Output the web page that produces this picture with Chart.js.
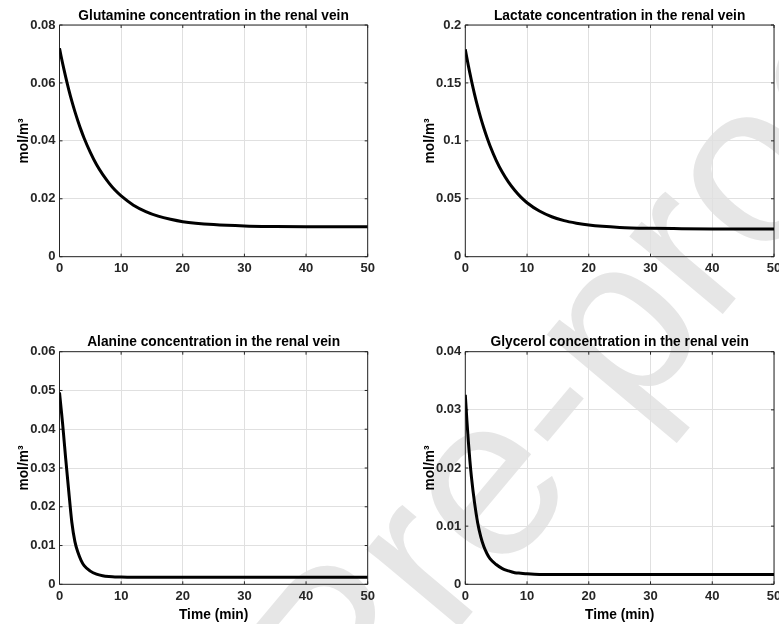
<!DOCTYPE html>
<html>
<head>
<meta charset="utf-8">
<script src="https://cdn.jsdelivr.net/npm/chart.js@4.4.0/dist/chart.umd.min.js"></script>
<style>
  html, body { margin: 0; padding: 0; background: #fff; }
  #page { position: relative; width: 779px; height: 624px; overflow: hidden; }
  #stamp { position: absolute; left: 0; top: 0; }
  .panel { position: absolute; }
</style>
</head>
<body>
<div id="page">
  <canvas id="stamp" width="779" height="624"></canvas>
  <div class="panel" style="left:0;top:0;width:390px;height:300px"><canvas id="glnChart"></canvas></div>
  <div class="panel" style="left:390px;top:0;width:389px;height:300px"><canvas id="lacChart"></canvas></div>
  <div class="panel" style="left:0;top:300px;width:390px;height:324px"><canvas id="alaChart"></canvas></div>
  <div class="panel" style="left:390px;top:300px;width:389px;height:324px"><canvas id="glyChart"></canvas></div>
</div>
<script>
// time axis (min) and renal vein concentrations (mol/m3)
const timeMin = [0, 0.25, 0.5, 0.75, 1, 1.5, 2, 2.5, 3, 3.5, 4, 5, 6, 7, 8, 9, 10, 12, 14, 16, 18, 20, 25, 30, 35, 40, 45, 50];

const glutamine = [0.0720, 0.0693, 0.0668, 0.0644, 0.0621, 0.0577, 0.0537, 0.0501, 0.0468, 0.0437, 0.0409, 0.0360, 0.0318, 0.0284,
  0.0255, 0.0230, 0.0210, 0.0178, 0.0156, 0.0140, 0.0129, 0.0121, 0.0111, 0.0106, 0.0104, 0.0103, 0.0103, 0.0103];
const lactate = [0.1790, 0.1717, 0.1647, 0.1582, 0.1519, 0.1402, 0.1295, 0.1198, 0.1111, 0.1031, 0.0958, 0.0832, 0.0728, 0.0643,
  0.0573, 0.0514, 0.0466, 0.0394, 0.0345, 0.0311, 0.0289, 0.0273, 0.0253, 0.0245, 0.0242, 0.0240, 0.0239, 0.0239];
const alanine = [0.0495, 0.0455, 0.0415, 0.0370, 0.0325, 0.0240, 0.0160, 0.0110, 0.0082, 0.0062, 0.0048, 0.0034, 0.0026, 0.0022,
  0.0020, 0.0019, 0.0019, 0.0018, 0.0018, 0.0018, 0.0018, 0.0018, 0.0018, 0.0018, 0.0018, 0.0018, 0.0018, 0.0018];
const glycerol = [0.0326, 0.0283, 0.0245, 0.0212, 0.0184, 0.0140, 0.0106, 0.0082, 0.0065, 0.0053, 0.0044, 0.0034, 0.0027, 0.0023,
  0.0020, 0.0019, 0.0018, 0.0017, 0.0017, 0.0017, 0.0017, 0.0017, 0.0017, 0.0017, 0.0017, 0.0017, 0.0017, 0.0017];

const timeTicks = [0, 10, 20, 30, 40, 50];
const glnTicks = [0, 0.02, 0.04, 0.06, 0.08];
const lacTicks = [0, 0.05, 0.1, 0.15, 0.2];
const alaTicks = [0, 0.01, 0.02, 0.03, 0.04, 0.05, 0.06];
const glyTicks = [0, 0.01, 0.02, 0.03, 0.04];

const FONT = '"Liberation Sans", Arial, Helvetica, sans-serif';
const AXIS_COLOR = '#262626';

// faint diagonal stamp behind the plots
const stamp = document.getElementById('stamp').getContext('2d');
stamp.save();
stamp.translate(351, 757);
stamp.rotate(-50 * Math.PI / 180);
stamp.font = '230px ' + FONT;
stamp.fillStyle = '#e6e6e6';
stamp.fillText('Pre-proof', 0, 0);
stamp.restore();

// matlab style box with inward ticks on all four sides
const boxTicks = {
  id: 'boxTicks',
  beforeDatasetsDraw(chart) {
    const { ctx, chartArea: a, scales: { x, y } } = chart;
    ctx.save();
    ctx.strokeStyle = AXIS_COLOR;
    ctx.lineWidth = 1;
    ctx.beginPath();
    x.ticks.forEach(t => {
      const px = x.getPixelForValue(t.value);
      ctx.moveTo(px, a.bottom); ctx.lineTo(px, a.bottom - 3);
      ctx.moveTo(px, a.top); ctx.lineTo(px, a.top + 3);
    });
    y.ticks.forEach(t => {
      const py = y.getPixelForValue(t.value);
      ctx.moveTo(a.left, py); ctx.lineTo(a.left + 3, py);
      ctx.moveTo(a.right, py); ctx.lineTo(a.right - 3, py);
    });
    ctx.rect(a.left, a.top, a.right - a.left, a.bottom - a.top);
    ctx.stroke();
    ctx.restore();
  }
};

function makePanel(id, opts) {
  const data = timeMin.map((t, i) => ({ x: t, y: opts.values[i] }));
  return new Chart(document.getElementById(id), {
    type: 'line',
    data: {
      datasets: [{
        data: data,
        borderColor: '#000',
        borderWidth: 3,
        pointRadius: 0,
        cubicInterpolationMode: 'monotone',
        fill: false
      }]
    },
    plugins: [boxTicks],
    options: {
      responsive: true,
      maintainAspectRatio: false,
      animation: false,
      devicePixelRatio: 1,
      layout: { padding: { left: 0, right: opts.padRight, top: opts.padTop, bottom: 0 } },
      plugins: {
        legend: { display: false },
        tooltip: { enabled: false },
        title: {
          display: true,
          text: opts.title,
          fullSize: false,
          color: '#000',
          font: { family: FONT, size: 13.75, weight: 'bold' },
          padding: { top: 7.5, bottom: 1 }
        }
      },
      scales: {
        x: {
          type: 'linear',
          min: 0,
          max: 50,
          afterBuildTicks: s => { s.ticks = timeTicks.map(v => ({ value: v })); },
          afterFit: s => { s.height = opts.xHeight; s.paddingLeft = 0; s.paddingRight = 0; },
          grid: { color: '#e0e0e0', lineWidth: 1, drawTicks: false },
          border: { display: false },
          ticks: {
            padding: 4,
            maxRotation: 0,
            color: AXIS_COLOR,
            font: { family: FONT, size: 13, weight: 'bold' },
            callback: v => String(v)
          },
          title: {
            display: opts.xLabel,
            text: 'Time (min)',
            color: '#000',
            font: { family: FONT, size: 13.75, weight: 'bold' },
            padding: { top: 0, bottom: 1 }
          }
        },
        y: {
          min: 0,
          max: opts.ticks[opts.ticks.length - 1],
          afterBuildTicks: s => { s.ticks = opts.ticks.map(v => ({ value: v })); },
          afterFit: s => { s.width = opts.yWidth; s.paddingTop = 0; s.paddingBottom = 0; },
          grid: { color: '#e0e0e0', lineWidth: 1, drawTicks: false },
          border: { display: false },
          ticks: {
            padding: 4,
            color: AXIS_COLOR,
            font: { family: FONT, size: 13, weight: 'bold' },
            callback: v => String(v)
          },
          title: {
            display: true,
            text: 'mol/m³',
            color: '#000',
            font: { family: FONT, size: 13.75, weight: 'bold' },
            padding: { top: opts.yTitleGap, bottom: 0 }
          }
        }
      }
    }
  });
}

makePanel('glnChart', {
  title: 'Glutamine concentration in the renal vein', values: glutamine, ticks: glnTicks,
  padRight: 22.3, padTop: 0, yWidth: 59.5, xHeight: 43.3, yTitleGap: 16, xLabel: false
});
makePanel('lacChart', {
  title: 'Lactate concentration in the renal vein', values: lactate, ticks: lacTicks,
  padRight: 5, padTop: 0, yWidth: 75.3, xHeight: 43.3, yTitleGap: 31.75, xLabel: false
});
makePanel('alaChart', {
  title: 'Alanine concentration in the renal vein', values: alanine, ticks: alaTicks,
  padRight: 22.3, padTop: 26.7, yWidth: 59.5, xHeight: 39.7, yTitleGap: 16, xLabel: true
});
makePanel('glyChart', {
  title: 'Glycerol concentration in the renal vein', values: glycerol, ticks: glyTicks,
  padRight: 5, padTop: 26.7, yWidth: 75.3, xHeight: 39.7, yTitleGap: 31.75, xLabel: true
});
</script>
</body>
</html>
